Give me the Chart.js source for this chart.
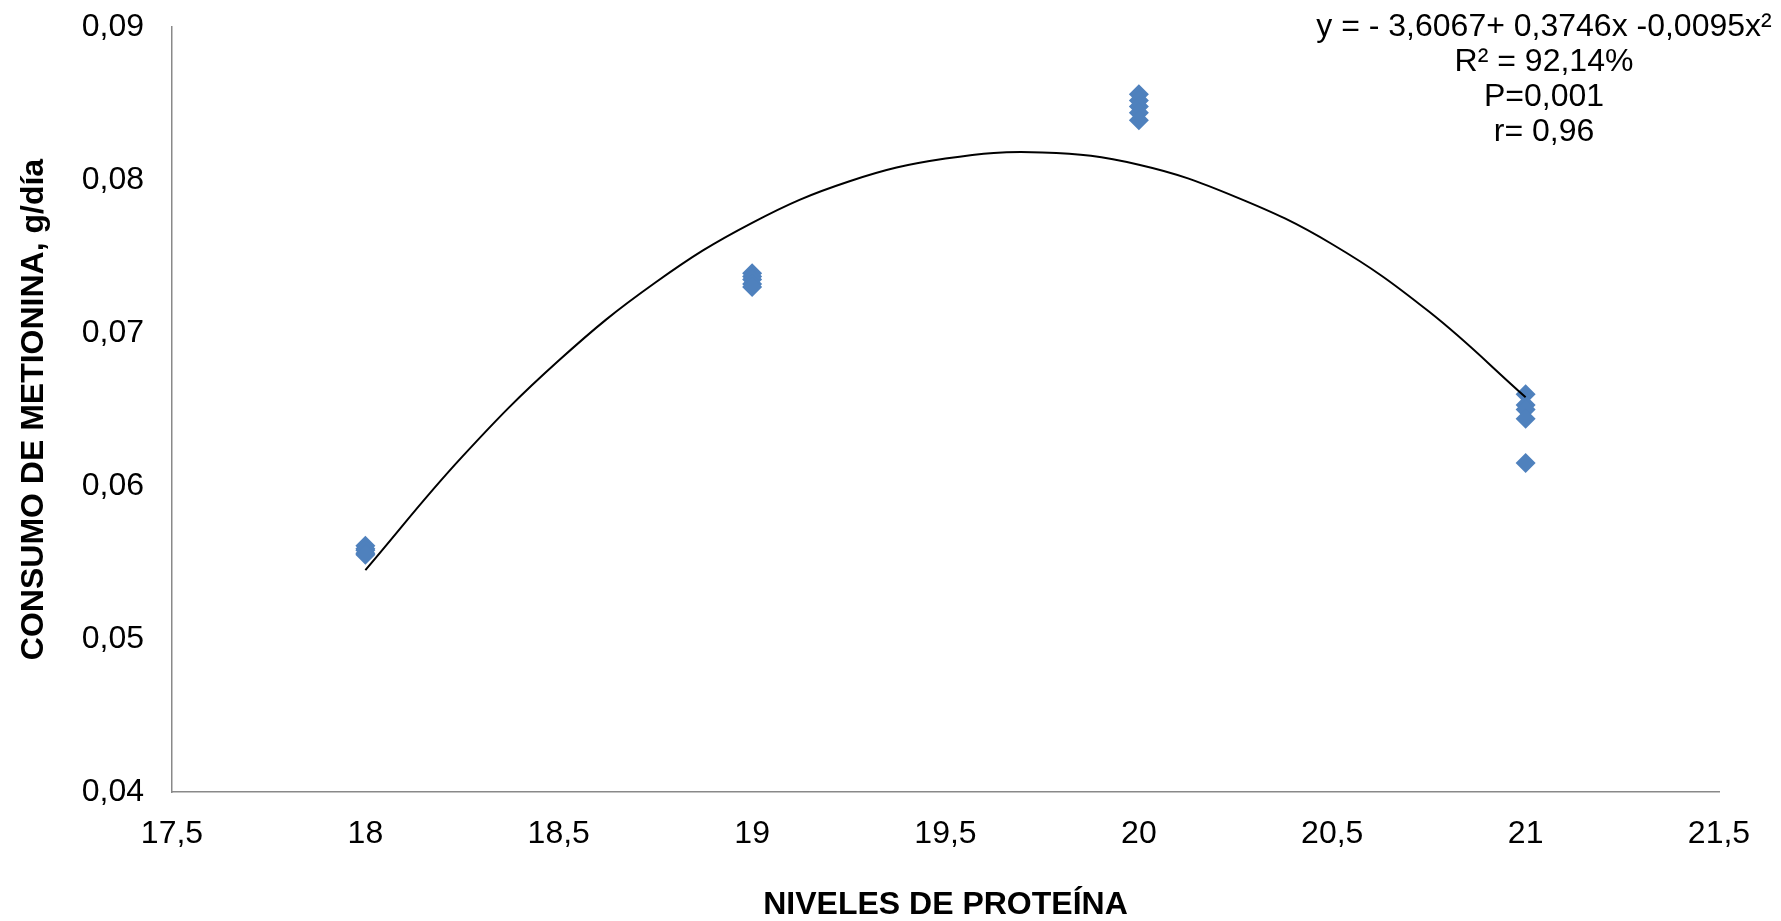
<!DOCTYPE html>
<html>
<head>
<meta charset="utf-8">
<title>Consumo de metionina</title>
<script src="https://cdn.jsdelivr.net/npm/chart.js@4/dist/chart.umd.min.js"></script>
<style>
    html, body { margin: 0; padding: 0; background: #ffffff; }
    #wrap { width: 1781px; height: 921px; }
</style>
</head>
<body>
<div id="wrap"><canvas id="chart"></canvas></div>
<script>
// Niveles de proteína y consumo observado (g/día), cinco repeticiones por nivel
var niveles = [18, 19, 20, 21];
var met18 = [0.0561, 0.0559, 0.0558, 0.0556, 0.0555];
var met19 = [0.0739, 0.0737, 0.0735, 0.0732, 0.0730];
var met20 = [0.0856, 0.0852, 0.0848, 0.0844, 0.0839];
var met21 = [0.0660, 0.0653, 0.0650, 0.0644, 0.0615];

// Línea de tendencia polinómica tal como aparece trazada
var tendenciaX = [18, 18.25, 18.5, 18.75, 19, 19.25, 19.5, 19.75, 20, 20.25, 20.5, 20.75, 21];
var tendenciaY = [0.0545, 0.0619, 0.0682, 0.0733, 0.0772, 0.0799, 0.0814, 0.0818, 0.0810, 0.0789, 0.0758, 0.0714, 0.0658];

var ecuacion = [
    'y = - 3,6067+ 0,3746x -0,0095x\u00B2',
    'R\u00B2 = 92,14%',
    'P=0,001',
    'r= 0,96'
];

(function () {
    "use strict";

    var fuente = "'Liberation Sans', Arial, sans-serif";
    Chart.defaults.font.family = fuente;
    Chart.defaults.color = '#000000';

    var puntos = [];
    [met18, met19, met20, met21].forEach(function (serie, i) {
        serie.forEach(function (v) {
            puntos.push({x: niveles[i], y: v});
        });
    });

    var curva = tendenciaX.map(function (x, i) {
        return {x: x, y: tendenciaY[i]};
    });

    var coma = function (value) {
        return String(value).replace('.', ',');
    };

    // texto de la ecuación en la esquina superior derecha
    var ecuacionPlugin = {
        id: 'ecuacion',
        afterDraw: function (chart) {
            var ctx = chart.ctx;
            var area = chart.chartArea;
            ctx.save();
            ctx.font = '32px ' + fuente;
            ctx.fillStyle = '#000000';
            ctx.textAlign = 'center';
            ctx.textBaseline = 'alphabetic';
            ecuacion.forEach(function (linea, i) {
                ctx.fillText(linea, area.right - 175, area.top + 9 + i * 35);
            });
            ctx.restore();
        }
    };

    var ctx = document.getElementById('chart').getContext('2d');

    new Chart(ctx, {
        type: 'scatter',
        data: {
            datasets: [{
                type: 'line',
                data: curva,
                showLine: true,
                borderColor: '#000000',
                borderWidth: 2,
                pointRadius: 0,
                tension: 0.4,
                fill: false,
                order: 0
            }, {
                data: puntos,
                pointStyle: 'rectRot',
                pointRadius: 10,
                pointHoverRadius: 10,
                backgroundColor: '#4F81BD',
                borderWidth: 0,
                order: 1
            }]
        },
        options: {
            responsive: true,
            maintainAspectRatio: false,
            animation: false,
            devicePixelRatio: 1,
            layout: {
                padding: {left: 0, right: 62, top: 27, bottom: 0}
            },
            plugins: {
                legend: {display: false},
                tooltip: {enabled: false}
            },
            scales: {
                x: {
                    type: 'linear',
                    min: 17.5,
                    max: 21.5,
                    grid: {display: false, drawTicks: false},
                    border: {display: true, color: '#898989', width: 1.5},
                    ticks: {
                        stepSize: 0.5,
                        padding: 23,
                        font: {size: 32},
                        callback: coma
                    },
                    title: {
                        display: true,
                        text: 'NIVELES DE PROTEÍNA',
                        font: {size: 32, weight: 'bold', lineHeight: 1},
                        padding: {top: 0, bottom: 0}
                    },
                    afterFit: function (scale) {
                        scale.height = 129;
                        scale.paddingLeft = 0;
                        scale.paddingRight = 0;
                    }
                },
                y: {
                    min: 0.04,
                    max: 0.09,
                    grid: {display: false, drawTicks: false},
                    border: {display: true, color: '#898989', width: 1.5},
                    ticks: {
                        stepSize: 0.01,
                        padding: 28,
                        font: {size: 32},
                        callback: function (value) {
                            return value.toFixed(2).replace('.', ',');
                        }
                    },
                    title: {
                        display: true,
                        text: 'CONSUMO DE METIONINA, g/día',
                        font: {size: 32, weight: 'bold'},
                        padding: {top: 15, bottom: 0}
                    },
                    afterFit: function (scale) {
                        scale.width = 172;
                        scale.paddingTop = 0;
                        scale.paddingBottom = 0;
                    }
                }
            }
        },
        plugins: [ecuacionPlugin]
    });
}());
</script>
</body>
</html>
